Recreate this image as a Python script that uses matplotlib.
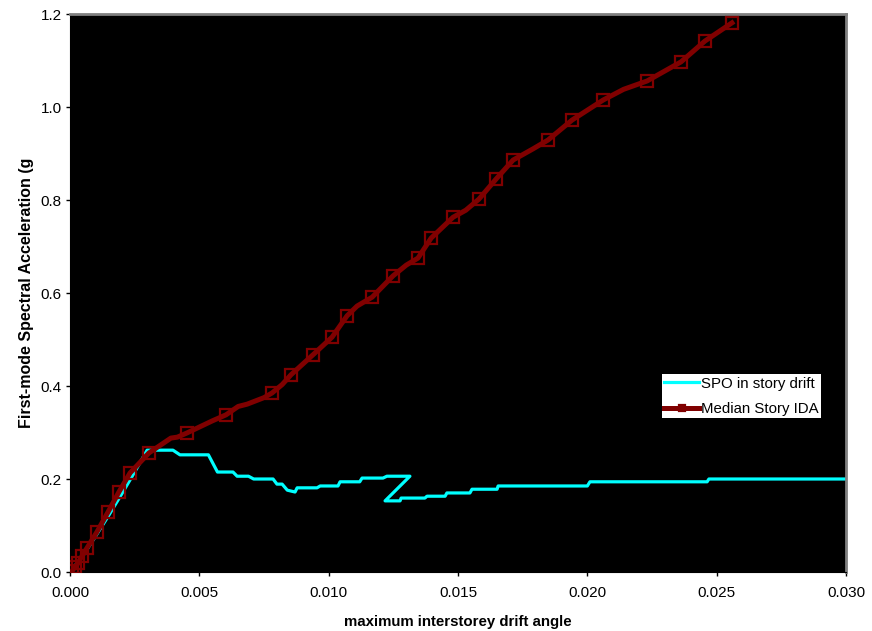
import matplotlib
matplotlib.use("Agg")
import matplotlib.pyplot as plt

plt.rcParams['font.family'] = ['Liberation Sans', 'DejaVu Sans']

# Static pushover curve expressed in storey drift
spo_drift = [0.0, 0.0005, 0.0010, 0.0015, 0.0020, 0.0025, 0.00298, 0.00398, 0.00425,
             0.00535, 0.0057, 0.0063, 0.00646, 0.0069, 0.0071, 0.00785, 0.0080, 0.0082,
             0.0084, 0.0087, 0.00878, 0.00955, 0.00967, 0.01036, 0.01044, 0.0112, 0.01129,
             0.0121, 0.01225, 0.01314, 0.01218, 0.01276, 0.0128, 0.01372, 0.0138, 0.0145,
             0.01457, 0.01546, 0.01554, 0.01651, 0.01655, 0.0200, 0.0201, 0.02463, 0.0247,
             0.0300]
spo_sa = [0.0, 0.035, 0.078, 0.122, 0.168, 0.215, 0.262, 0.262, 0.252,
          0.252, 0.215, 0.215, 0.206, 0.206, 0.200, 0.200, 0.189, 0.189,
          0.176, 0.172, 0.181, 0.181, 0.185, 0.185, 0.194, 0.194, 0.202,
          0.202, 0.206, 0.206, 0.153, 0.153, 0.159, 0.159, 0.163, 0.163,
          0.170, 0.170, 0.178, 0.178, 0.185, 0.185, 0.194, 0.194, 0.200,
          0.200]

# Median IDA curve (story drift vs Sa)
ida_drift = [0.00008, 0.00019, 0.00031, 0.00046, 0.00066, 0.00104, 0.00147, 0.00189,
             0.00232, 0.00305, 0.00390, 0.00415, 0.00452, 0.00550, 0.00603, 0.00650,
             0.00685, 0.00750, 0.00781, 0.00820, 0.00854, 0.00939, 0.01013, 0.01071,
             0.01110, 0.01168, 0.01249, 0.01300, 0.01345, 0.01396, 0.01481, 0.01530,
             0.01581, 0.01647, 0.01713, 0.01790, 0.01848, 0.01941, 0.02061, 0.02140,
             0.02231, 0.02362, 0.02455, 0.02559]
ida_sa = [0.002, 0.011, 0.019, 0.034, 0.052, 0.086, 0.129, 0.172,
          0.213, 0.256, 0.288, 0.290, 0.299, 0.325, 0.338, 0.356,
          0.361, 0.375, 0.385, 0.403, 0.424, 0.467, 0.505, 0.551,
          0.572, 0.591, 0.637, 0.660, 0.675, 0.718, 0.763, 0.778,
          0.802, 0.845, 0.886, 0.910, 0.929, 0.972, 1.015, 1.038,
          1.056, 1.097, 1.142, 1.181]
ida_marks = [0, 1, 2, 3, 4, 5, 6, 7, 8, 9, 12, 14, 18, 20, 21, 22, 23, 25, 26, 28,
             29, 30, 32, 33, 34, 36, 37, 38, 40, 41, 42, 43]

x_ticks = [0.0, 0.005, 0.010, 0.015, 0.020, 0.025, 0.030]
y_ticks = [0.0, 0.2, 0.4, 0.6, 0.8, 1.0, 1.2]

fig = plt.figure(figsize=(8.72, 6.31), dpi=100)
ax = fig.add_axes([0.0803, 0.0935, 0.8899, 0.8843])
ax.set_facecolor('black')

ax.plot(spo_drift, spo_sa, color='#00ffff', lw=2.3, label='SPO in story drift', zorder=2)
ax.plot(ida_drift, ida_sa, color='#800000', lw=3.6, marker='s', markersize=8,
        markerfacecolor='none', markeredgecolor='#800000', markeredgewidth=1.6,
        markevery=ida_marks, label='Median Story IDA', zorder=3)

ax.set_xlim(0, 0.030)
ax.set_ylim(0, 1.2)
ax.set_xticks(x_ticks)
ax.set_xticklabels([f'{v:.3f}' for v in x_ticks])
ax.set_yticks(y_ticks)
ax.set_yticklabels([f'{v:.1f}' for v in y_ticks])
ax.tick_params(direction='out', length=3, width=1, labelsize=11)
ax.tick_params(axis='x', pad=7)
ax.tick_params(axis='y', pad=3)

for side in ('top', 'right'):
    ax.spines[side].set_color('#808080')
    ax.spines[side].set_linewidth(2)
for side in ('left', 'bottom'):
    ax.spines[side].set_color('black')

ax.set_xlabel('maximum interstorey drift angle', fontsize=10.8, fontweight='bold', labelpad=11)
ax.set_ylabel('First-mode Spectral Acceleration (g', fontsize=11.5, fontweight='bold', labelpad=5)

leg = ax.legend(loc='upper left', bbox_to_anchor=(0.763, 0.354), fontsize=10.8,
                frameon=True, fancybox=False, framealpha=1, edgecolor='white',
                handlelength=2.3, handletextpad=0.15, borderpad=0.15,
                labelspacing=0.75, borderaxespad=0, markerscale=0.5)
leg.get_frame().set_linewidth(0)

fig.savefig('out.png', dpi=100)
